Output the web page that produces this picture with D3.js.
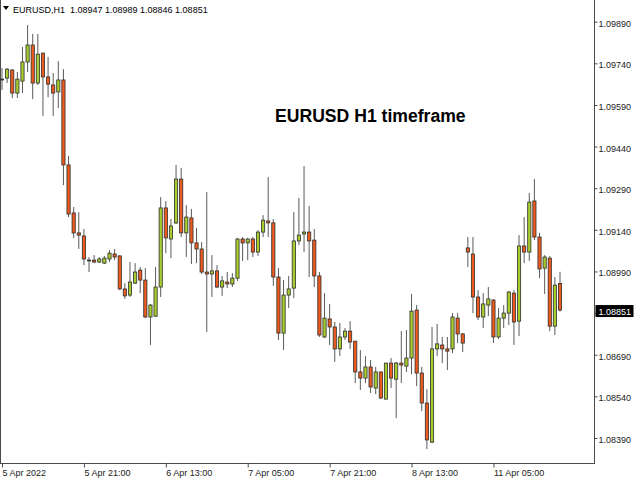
<!DOCTYPE html>
<html><head><meta charset="utf-8">
<script src="https://cdn.jsdelivr.net/npm/d3@7"></script>
<style>
body{margin:0;background:#fff}
svg{display:block}
text{font-family:"Liberation Sans",Arial,sans-serif}
</style>
</head><body>
<svg id="c" width="640" height="480"></svg>
<script>
const symbolHeader = "EURUSD,H1  1.08947 1.08989 1.08846 1.08851";
const chartTitle = "EURUSD H1 timeframe";
const opens = [
1.09680,1.09687,1.09716,1.09633,1.09676,1.09745,1.09806,1.09669,1.09777,1.09691,
1.09662,1.09637,1.09680,1.09374,1.09201,1.09129,1.09118,1.09031,1.09031,1.09024,
1.09020,1.09035,1.09053,1.09046,1.08927,1.08905,1.08948,1.08995,1.08959,1.08826,
1.08829,1.08934,1.09219,1.09107,1.09165,1.09323,1.09129,1.09183,1.09093,1.09071,
1.08988,1.08981,1.08992,1.08934,1.08952,1.08945,1.08966,1.09107,1.09093,1.09107,
1.09060,1.09132,1.09172,1.09165,1.08970,1.08768,1.08905,1.08930,1.09100,1.09125,
1.09132,1.09103,1.08974,1.08754,1.08819,1.08790,1.08711,1.08754,1.08775,1.08739,
1.08628,1.08606,1.08646,1.08570,1.08628,1.08530,1.08660,1.08602,1.08660,1.08649,
1.08678,1.08851,1.08624,1.08516,1.08375,1.08711,1.08725,1.08711,1.08711,1.08822,
1.08765,1.09075,1.09053,1.08898,1.08826,1.08869,1.08887,1.08754,1.08822,1.08840,
1.08912,1.08811,1.09082,1.09060,1.09244,1.09114,1.09002,1.09038,1.08793,1.08947];
const highs = [
1.09723,1.09723,1.09719,1.09709,1.09799,1.09878,1.09846,1.09846,1.09777,1.09763,
1.09705,1.09748,1.09719,1.09406,1.09222,1.09204,1.09143,1.09042,1.09049,1.09042,
1.09046,1.09067,1.09071,1.09049,1.08948,1.09024,1.09020,1.09006,1.09002,1.08873,
1.09006,1.09258,1.09244,1.09179,1.09374,1.09363,1.09229,1.09215,1.09147,1.09096,
1.09276,1.09049,1.09013,1.08974,1.08988,1.08984,1.09111,1.09114,1.09111,1.09114,
1.09139,1.09193,1.09330,1.09179,1.09002,1.08959,1.08974,1.09204,1.09255,1.09370,
1.09226,1.09143,1.08988,1.08912,1.08873,1.08808,1.08804,1.08786,1.08811,1.08739,
1.08707,1.08685,1.08671,1.08646,1.08628,1.08660,1.08678,1.08664,1.08775,1.08779,
1.08909,1.08869,1.08646,1.08566,1.08790,1.08801,1.08754,1.08754,1.08840,1.08840,
1.08768,1.09114,1.09114,1.08923,1.08912,1.08934,1.08891,1.08858,1.08869,1.08920,
1.08923,1.09121,1.09186,1.09273,1.09323,1.09129,1.09049,1.09046,1.08970,1.08989];
const lows = [
1.09644,1.09669,1.09615,1.09615,1.09633,1.09709,1.09611,1.09662,1.09550,1.09618,
1.09550,1.09579,1.09301,1.09186,1.09111,1.09071,1.09013,1.08988,1.09020,1.09020,
1.09017,1.09024,1.09031,1.08923,1.08891,1.08898,1.08945,1.08912,1.08822,1.08725,
1.08826,1.08898,1.09056,1.09038,1.09161,1.09114,1.09042,1.09017,1.09020,1.08981,
1.08772,1.08898,1.08930,1.08902,1.08930,1.08934,1.08956,1.09028,1.09031,1.09042,
1.09046,1.09114,1.09114,1.08938,1.08743,1.08707,1.08858,1.08894,1.09085,1.09060,
1.08970,1.08934,1.08754,1.08750,1.08725,1.08664,1.08685,1.08743,1.08711,1.08588,
1.08563,1.08588,1.08552,1.08548,1.08530,1.08530,1.08570,1.08462,1.08588,1.08628,
1.08620,1.08577,1.08487,1.08350,1.08372,1.08685,1.08660,1.08635,1.08696,1.08732,
1.08700,1.09006,1.08840,1.08815,1.08786,1.08829,1.08732,1.08747,1.08786,1.08797,
1.08725,1.08757,1.09020,1.09028,1.09103,1.08966,1.08909,1.08775,1.08761,1.08846];
const closes = [
1.09683,1.09719,1.09633,1.09683,1.09745,1.09806,1.09669,1.09773,1.09691,1.09665,
1.09633,1.09680,1.09374,1.09197,1.09129,1.09121,1.09035,1.09030,1.09024,1.09035,
1.09038,1.09056,1.09042,1.08927,1.08902,1.08952,1.08988,1.08959,1.08826,1.08869,
1.08934,1.09219,1.09111,1.09154,1.09323,1.09129,1.09186,1.09093,1.09071,1.08988,
1.08981,1.08992,1.08934,1.08956,1.08945,1.08966,1.09107,1.09093,1.09107,1.09060,
1.09132,1.09175,1.09165,1.08970,1.08768,1.08905,1.08927,1.09100,1.09121,1.09132,
1.09100,1.08974,1.08761,1.08822,1.08790,1.08711,1.08754,1.08775,1.08736,1.08628,
1.08606,1.08646,1.08574,1.08628,1.08534,1.08660,1.08606,1.08660,1.08653,1.08678,
1.08847,1.08624,1.08516,1.08383,1.08711,1.08729,1.08711,1.08703,1.08826,1.08765,
1.08732,1.09060,1.08898,1.08826,1.08873,1.08891,1.08754,1.08822,1.08840,1.08916,
1.08808,1.09082,1.09060,1.09240,1.09114,1.08999,1.09042,1.08793,1.08941,1.08851];
const timeTickIndex = [0,16,32,48,64,80,96];
const timeTickLabels = ["5 Apr 2022","5 Apr 21:00","6 Apr 13:00","7 Apr 05:00","7 Apr 21:00","8 Apr 13:00","11 Apr 05:00"];
const priceTicks = [1.09890,1.09740,1.09590,1.09440,1.09290,1.09140,1.08990,1.08840,1.08690,1.08540,1.08390];
const lastPrice = 1.08851;

const bars = opens.map((o,i)=>({i,o,h:highs[i],l:lows[i],c:closes[i]}));
const svg = d3.select('#c');
const x = d3.scaleLinear().domain([0, bars.length-1]).range([2, 560]);
const y = d3.scaleLinear().domain([1.08390, 1.09890]).range([438, 21.7]);
const plotRight = 594.5, plotBottom = 463.5;
const fmt = d3.format('.5f');

// chart frame
svg.append('rect').attr('x',0.5).attr('y',-1).attr('width',plotRight-0.5).attr('height',plotBottom+1)
  .attr('fill','none').attr('stroke','#4a4a4a').attr('stroke-width',1);

// candles
const g = svg.append('g');
g.selectAll('line.wick').data(bars).join('line').attr('class','wick')
  .attr('x1',d=>x(d.i)).attr('x2',d=>x(d.i))
  .attr('y1',d=>y(d.h)).attr('y2',d=>y(d.l))
  .attr('stroke','#5a5a5a').attr('stroke-width',1);
g.selectAll('rect.body').data(bars).join('rect').attr('class','body')
  .attr('x',d=>x(d.i)-1.6).attr('width',3.2)
  .attr('y',d=>y(Math.max(d.o,d.c)))
  .attr('height',d=>Math.max(0.8, Math.abs(y(d.o)-y(d.c))))
  .attr('fill',d=>d.c>=d.o ? '#a6cc2e' : '#ec5a1e')
  .attr('stroke','#2e2e2e').attr('stroke-width',0.8);

// price axis (the label hidden under the current-price box is left blank)
const yAxis = d3.axisRight(y).tickValues(priceTicks).tickSize(3).tickPadding(1)
  .tickFormat(d => Math.abs(d - lastPrice) < 0.0002 ? '' : fmt(d));
const ya = svg.append('g').attr('transform',`translate(${plotRight},0)`).call(yAxis);
ya.select('.domain').remove();
ya.selectAll('line').attr('stroke','#4a4a4a');
ya.selectAll('text').attr('font-size',9).attr('fill','#222').attr('dy','0.5em')
  .attr('font-family','"Liberation Sans",Arial,sans-serif');

// current price box
const py = y(lastPrice);
svg.append('rect').attr('x',plotRight+1).attr('y',py-5).attr('width',38).attr('height',12).attr('fill','#000');
svg.append('text').attr('x',plotRight+4).attr('y',py+5).attr('font-size',9).attr('fill','#fff')
  .text(fmt(lastPrice));

// time axis
const xAxis = d3.axisBottom(x).tickValues(timeTickIndex).tickSize(4).tickPadding(2)
  .tickFormat((d,i)=>timeTickLabels[i]);
const xa = svg.append('g').attr('transform',`translate(0,${plotBottom})`).call(xAxis);
xa.select('.domain').remove();
xa.selectAll('line').attr('stroke','#4a4a4a');
xa.selectAll('text').attr('font-size',9).attr('fill','#222').attr('text-anchor','start').attr('dx','0')
  .attr('font-family','"Liberation Sans",Arial,sans-serif');

// header
svg.append('path').attr('d','M3,6 L9,6 L6,10 Z').attr('fill','#000');
svg.append('text').attr('x',13).attr('y',13).attr('font-size',9).attr('fill','#000')
  .attr('xml:space','preserve').style('white-space','pre').text(symbolHeader);

// title
svg.append('text').attr('x',275).attr('y',122).attr('font-size',17.6).attr('font-weight','bold')
  .attr('fill','#000').text(chartTitle);
</script>
</body></html>
